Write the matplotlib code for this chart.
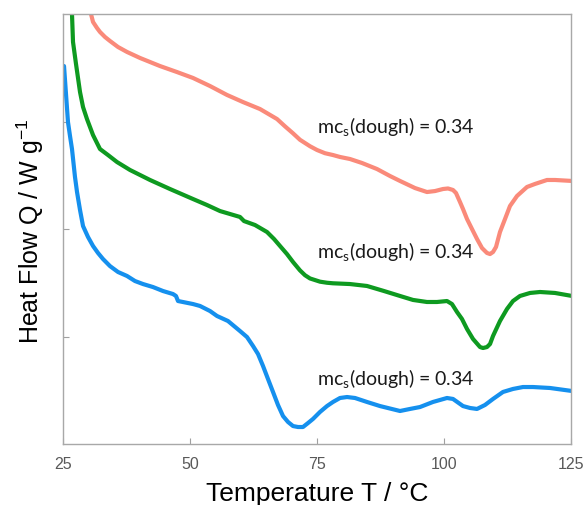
import matplotlib
matplotlib.use("Agg")
import matplotlib.pyplot as plt

# Temperatures (°C) and heat flow (arbitrary units)
salmon_T = [30.12, 30.51, 30.91, 31.69, 32.28, 33.27, 34.25, 35.83, 37.60, 40.16, 44.09,
            47.44, 50.59, 53.94, 57.28, 60.43, 63.78, 67.13, 68.70, 70.28, 71.65, 73.62,
            75.0, 76.57, 78.15, 79.53, 81.50, 83.86, 86.81, 89.37, 91.34, 94.29, 96.65,
            98.23, 99.80, 100.79, 101.77, 102.36, 103.15, 103.74, 104.53, 105.51, 106.50,
            107.48, 108.46, 109.06, 109.65, 110.24, 111.02, 112.01, 112.99, 114.37, 116.34,
            117.91, 120.28, 121.85, 125.2]
salmon_Q = [4.09, 4.00, 3.926, 3.870, 3.833, 3.786, 3.749, 3.693, 3.647, 3.591, 3.516,
            3.460, 3.405, 3.330, 3.247, 3.181, 3.116, 3.023, 2.955, 2.890, 2.830, 2.770,
            2.735, 2.705, 2.688, 2.670, 2.651, 2.614, 2.558, 2.493, 2.447, 2.381, 2.344,
            2.353, 2.372, 2.377, 2.363, 2.335, 2.251, 2.186, 2.093, 2.000, 1.907,
            1.823, 1.777, 1.767, 1.786, 1.833, 1.972, 2.093, 2.214, 2.307, 2.391,
            2.419, 2.456, 2.456, 2.447]

green_T = [26.57, 26.77, 26.97, 27.56, 28.35, 28.94, 29.72, 30.91, 32.28, 33.86, 35.63,
           38.19, 42.13, 46.06, 50.59, 53.35, 55.91, 59.84, 60.63, 62.80, 65.16, 66.54,
           67.72, 69.09, 70.28, 71.65, 72.64, 73.62, 75.59, 76.97, 78.15, 81.50, 84.84,
           88.19, 91.34, 93.90, 96.65, 98.62, 100.59, 101.57, 102.56, 103.54, 104.53,
           105.71, 107.09, 107.68, 108.46, 109.06, 109.65, 111.02, 112.40, 113.58,
           114.96, 116.93, 118.90, 121.85, 125.2]
green_Q = [4.093, 4.0, 3.740, 3.535, 3.274, 3.135, 3.023, 2.874, 2.744, 2.688, 2.623,
           2.549, 2.456, 2.372, 2.279, 2.223, 2.167, 2.112, 2.074, 2.037, 1.972, 1.907,
           1.842, 1.767, 1.693, 1.615, 1.570, 1.540, 1.510, 1.500, 1.495, 1.488, 1.470,
           1.423, 1.377, 1.340, 1.321, 1.321, 1.330, 1.302, 1.228, 1.163, 1.070,
           0.977, 0.902, 0.893, 0.902, 0.930, 1.005, 1.144, 1.256, 1.330,
           1.377, 1.405, 1.414, 1.405, 1.377]

blue_T = [25.2, 25.98, 26.38, 26.77, 27.36, 27.76, 28.35, 28.94, 29.92, 30.91, 31.89,
          32.87, 34.25, 35.83, 37.60, 39.17, 40.75, 42.72, 44.69, 46.65, 47.24, 47.64,
          50.59, 51.97, 53.94, 55.31, 57.48, 59.84, 61.22, 62.40, 63.39, 64.37, 65.35,
          66.34, 67.32, 68.31, 69.29, 70.28, 71.26, 72.24, 73.23, 74.21, 75.59, 76.97,
          78.15, 79.53, 80.91, 82.48, 84.84, 87.40, 91.34, 93.31, 95.28, 97.83, 100.59,
          101.77, 103.74, 105.12, 106.50, 108.07, 109.65, 111.61, 113.58, 115.55,
          117.52, 120.87, 125.2]
blue_Q = [3.516, 2.995, 2.865, 2.744, 2.484, 2.344, 2.177, 2.028, 1.926, 1.842, 1.777,
          1.721, 1.655, 1.600, 1.563, 1.516, 1.488, 1.460, 1.423, 1.395, 1.377, 1.330,
          1.302, 1.284, 1.237, 1.191, 1.144, 1.051, 0.995, 0.912, 0.837, 0.726, 0.605,
          0.484, 0.363, 0.260, 0.205, 0.167, 0.158, 0.158, 0.195, 0.233, 0.298, 0.353,
          0.391, 0.428, 0.437, 0.428, 0.391, 0.353, 0.307, 0.326, 0.344, 0.391, 0.428,
          0.419, 0.353, 0.335, 0.326, 0.363, 0.419, 0.484, 0.512, 0.530,
          0.530, 0.521, 0.493]

x_ticks = [25, 50, 75, 100, 125]
label_text = "mc$_\\mathregular{s}$(dough) = 0.34"
label_pos = [(75.0, 2.958), (75.0, 1.795), (75.0, 0.614)]

fig = plt.figure(figsize=(5.85, 5.06), dpi=100)
ax = fig.add_axes([63/585, 1-445/506, (571-63)/585, (445-15)/506])

lw = 3.0
kw = dict(lw=lw, solid_joinstyle="round", solid_capstyle="round")
ax.plot(salmon_T, salmon_Q, color="#FA8A7A", **kw)
ax.plot(green_T, green_Q, color="#0E9A20", **kw)
ax.plot(blue_T, blue_Q, color="#1590EE", **kw)

ax.set_xlim(25, 125)
ax.set_ylim(0, 4)
ax.set_xticks(x_ticks)
ax.set_xticklabels([str(t) for t in x_ticks], fontfamily="Liberation Sans", fontsize=11.5, color="#595959")
ax.set_yticks([1, 2, 3])
ax.set_yticklabels([])
ax.tick_params(direction="in", length=4, width=0.8, color="#A0A0A0", pad=9)
for s in ax.spines.values():
    s.set_color("#A8A8A8")
    s.set_linewidth(1.0)

for (x, y) in label_pos:
    ax.text(x, y, label_text, fontsize=14, fontfamily="Lato", ha="left", va="center", color="#1a1a1a")

fig.text(317/585, 1-494/506, "Temperature T / °C", fontsize=19, fontfamily="Liberation Sans",
         ha="center", va="center", color="black")
fig.text(30/585, 1-231/506, "Heat Flow Q / W g$^\\mathregular{-1}$", fontsize=18, fontfamily="Liberation Sans",
         ha="center", va="center", rotation=90, color="black")

fig.savefig("out.png", dpi=100)
